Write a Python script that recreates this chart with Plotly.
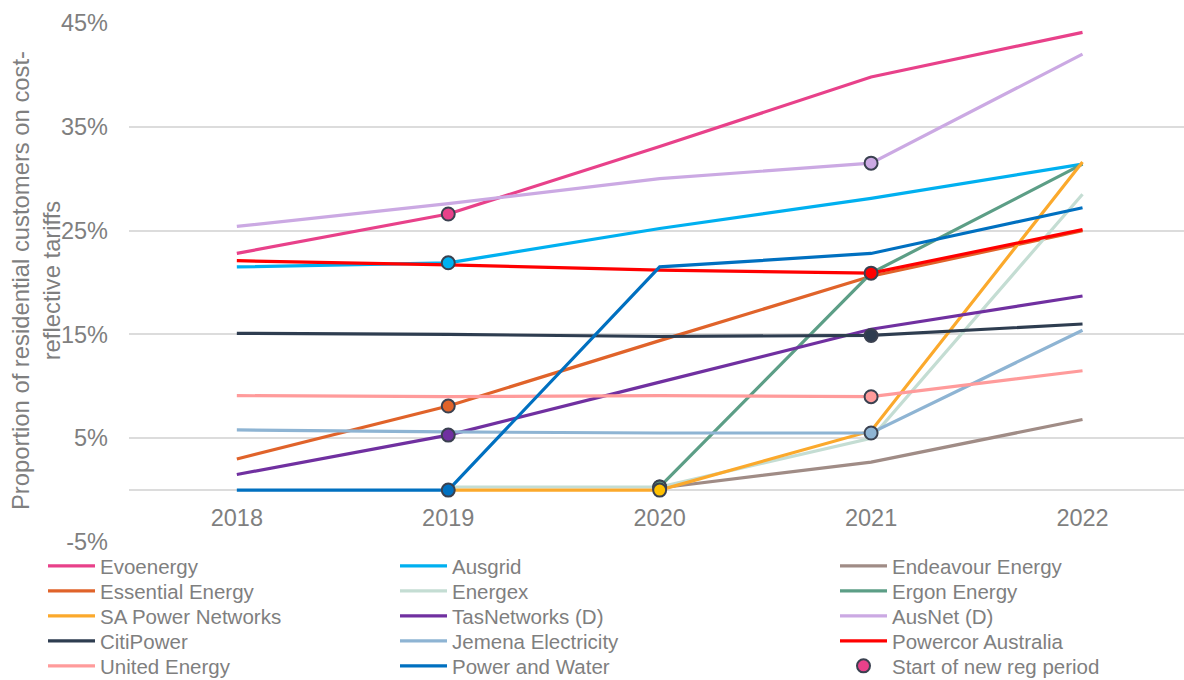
import plotly.graph_objects as go

years = ["2018", "2019", "2020", "2021", "2022"]

# values in percent (None = no data)
evoenergy = [22.8, 26.6, 33.1, 39.8, 44.1]
ausgrid = [21.5, 21.9, 25.2, 28.1, 31.4]
endeavour = [None, None, 0.2, 2.7, 6.8]
essential = [3.0, 8.1, 14.4, 20.6, 25.0]
energex = [None, 0.3, 0.3, 5.0, 28.5]
ergon = [None, None, 0.3, 20.9, 31.4]
sa_power = [None, 0.0, 0.0, 5.7, 31.6]
tasnetworks = [1.5, 5.3, 10.4, 15.5, 18.7]
ausnet = [25.4, 27.6, 30.0, 31.5, 42.0]
citipower = [15.1, 15.0, 14.8, 14.9, 16.0]
jemena = [5.8, 5.6, 5.5, 5.5, 15.4]
powercor = [22.1, 21.7, 21.2, 20.9, 25.1]
united = [9.1, 9.0, 9.1, 9.0, 11.5]
power_water = [0.0, 0.0, 21.5, 22.8, 27.2]

y_tickvals = [-5, 5, 15, 25, 35, 45]
y_ticktext = ["-5%", "5%", "15%", "25%", "35%", "45%"]
y_title = "Proportion of residential customers on cost-<br>reflective tariffs"

series_names = ["Evoenergy", "Ausgrid", "Endeavour Energy", "Essential Energy", "Energex",
                "Ergon Energy", "SA Power Networks", "TasNetworks (D)", "AusNet (D)",
                "CitiPower", "Jemena Electricity", "Powercor Australia", "United Energy",
                "Power and Water"]
series_values = [evoenergy, ausgrid, endeavour, essential, energex, ergon, sa_power,
                 tasnetworks, ausnet, citipower, jemena, powercor, united, power_water]
series_colors = ["#E8418A", "#00B0F0", "#A08C86", "#E0632A", "#C4DDD3", "#5C9E86",
                 "#FBA92C", "#7030A0", "#CBA9E3", "#2E3D50", "#8EB4D3", "#FF0000",
                 "#FF9B9B", "#0070C0"]

# start year of new regulatory period per series (marker)
reg_start = {"Evoenergy": "2019", "Ausgrid": "2019", "Essential Energy": "2019",
             "TasNetworks (D)": "2019", "Power and Water": "2019",
             "Ergon Energy": "2020", "Energex": "2020", "SA Power Networks": "2020",
             "AusNet (D)": "2021", "CitiPower": "2021", "Jemena Electricity": "2021",
             "Powercor Australia": "2021", "United Energy": "2021"}
marker_colors = {"SA Power Networks": "#FFC000"}
marker_label = "Start of new reg period"

FONT = "Arial, 'Liberation Sans', sans-serif"
GRAY = "#7F7F7F"

# layout geometry (px)
W, H = 1184, 680
L, R, T, B = 129, 0, 23, 138
pw, ph = W - L - R, H - T - B

fig = go.Figure()

legend_cols = [48, 400, 840]
legend_rows = [566, 591, 616, 641, 666]

def legend_pos(i):
    col = i % 3
    row = i // 3
    px = legend_cols[col] - 5
    py = legend_rows[row]
    return (px - L) / pw, (H - B - py) / ph

legend_style = dict(xanchor="left", yanchor="middle", bgcolor="rgba(0,0,0,0)",
                    itemwidth=47, font=dict(family=FONT, size=20.5, color=GRAY))

layout_legends = {}
for i, (name, vals, col) in enumerate(zip(series_names, series_values, series_colors)):
    lid = "legend" if i == 0 else f"legend{i+1}"
    fig.add_trace(go.Scatter(x=years, y=vals, name=name, mode="lines",
                             line=dict(color=col, width=3.2), connectgaps=False,
                             legend=lid))
    lx, ly = legend_pos(i)
    layout_legends[lid] = dict(x=lx, y=ly, **legend_style)

mx, my, mc = [], [], []
for name, vals, col in zip(series_names, series_values, series_colors):
    if name in reg_start:
        yr = reg_start[name]
        mx.append(yr)
        my.append(vals[years.index(yr)])
        mc.append(marker_colors.get(name, col))

lid = "legend15"
fig.add_trace(go.Scatter(x=mx, y=my, name=marker_label, mode="markers",
                         marker=dict(size=13, color=mc, line=dict(color="#3A4150", width=2)),
                         legend=lid))
lx, ly = legend_pos(14)
layout_legends[lid] = dict(x=lx, y=ly, **legend_style)

fig.update_layout(
    width=W, height=H,
    margin=dict(l=L, r=R, t=T, b=B, pad=0, autoexpand=False),
    plot_bgcolor="white", paper_bgcolor="white",
    font=dict(family=FONT, color=GRAY),
    showlegend=True,
    **layout_legends,
)
fig.add_annotation(text=y_title, xref="paper", yref="paper",
                   x=(36 - L) / pw, y=(H - B - 281) / ph, xanchor="center", yanchor="middle",
                   textangle=-90, showarrow=False, align="center",
                   font=dict(family=FONT, size=23.8, color=GRAY))
fig.update_xaxes(type="category", range=[-0.51, 4.48], showgrid=False, showline=False,
                 zeroline=False, anchor="free", position=0.1, ticks="",
                 ticklabelstandoff=11,
                 tickfont=dict(family=FONT, size=23.5, color=GRAY))
fig.update_yaxes(range=[-5, 45], tickvals=y_tickvals, ticktext=y_ticktext,
                 showgrid=True, gridcolor="#DCDCDC", gridwidth=1.5,
                 zeroline=True, zerolinecolor="#DCDCDC", zerolinewidth=1.5,
                 showline=False, ticks="", ticklabelstandoff=20,
                 tickfont=dict(family=FONT, size=23.5, color=GRAY))

fig.write_html("out.html")
